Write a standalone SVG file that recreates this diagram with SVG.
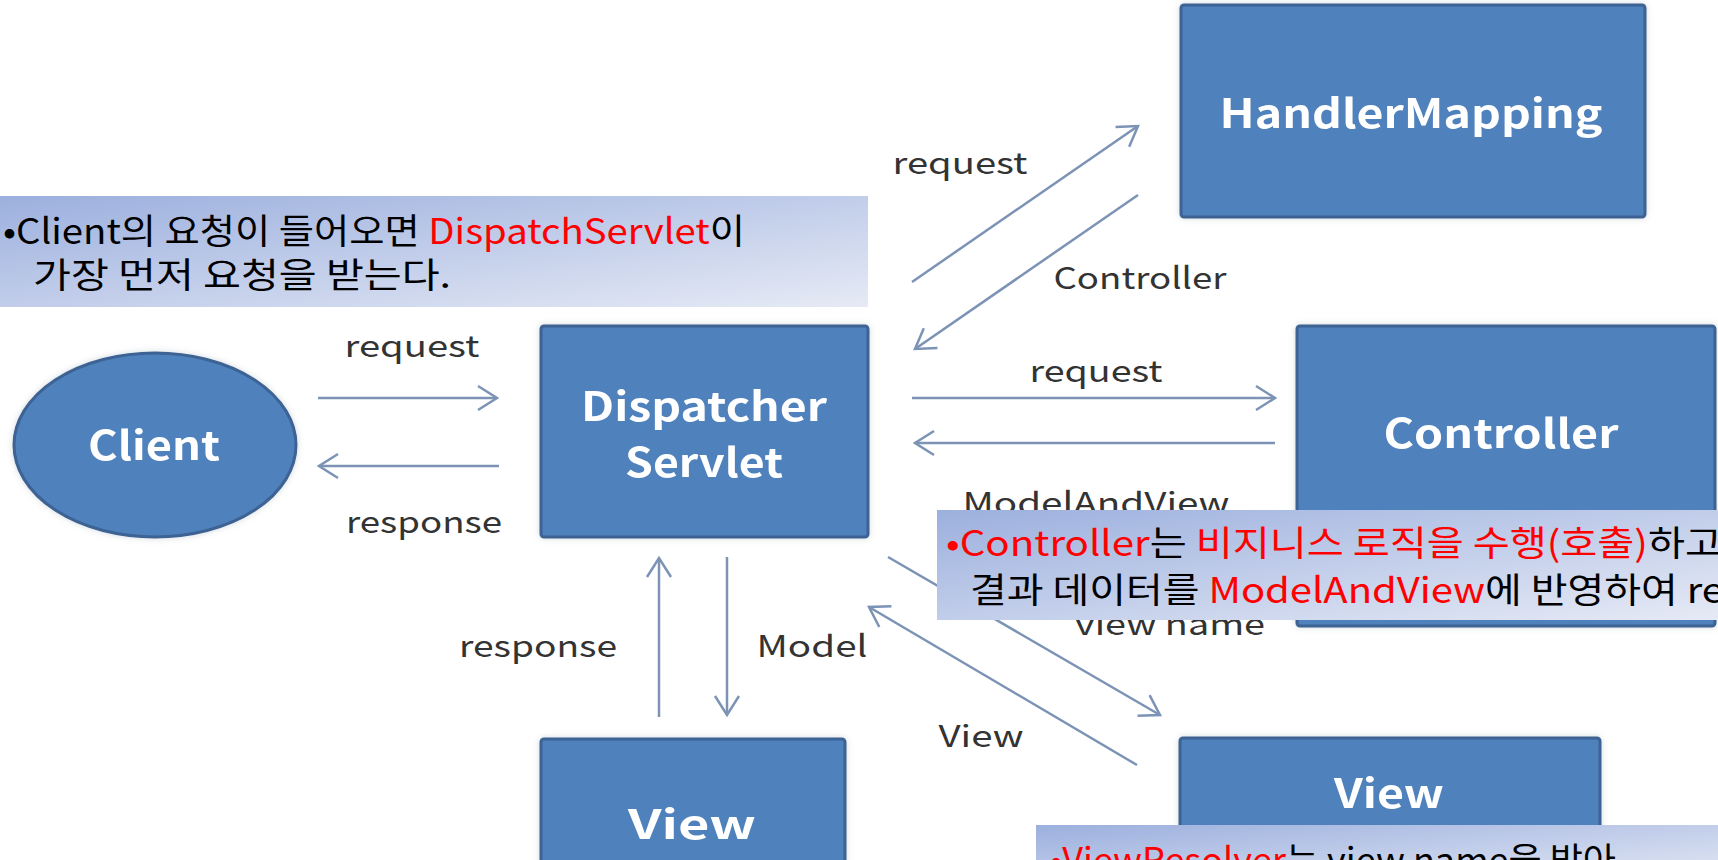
<svg xmlns="http://www.w3.org/2000/svg" width="1718" height="860" viewBox="0 0 1718 860">
<defs>
<style>
.box{fill:#4F81BD;stroke:#3C6294;stroke-width:3}
.nt{fill:#fff;font-family:"Noto Sans CJK KR","Noto Sans",sans-serif;font-weight:bold;font-size:40px;text-anchor:middle}
.lbl{fill:#333;font-family:"Noto Sans CJK KR","Noto Sans",sans-serif;font-size:30px;text-anchor:middle}
.conn{stroke:#7C93B6;stroke-width:2.5;fill:none;marker-end:url(#arr)}
.co{fill:url(#cg)}
.ct{fill:#000;font-family:"Noto Sans CJK KR","Noto Sans",sans-serif;font-size:35px}
.red{fill:#FF0000}
</style>
<marker id="arr" viewBox="0 0 22 28" refX="20" refY="13" markerWidth="22" markerHeight="28" markerUnits="userSpaceOnUse" orient="auto" overflow="visible">
<path d="M1,1 L20,13 L1,25" fill="none" stroke="#7C93B6" stroke-width="2.5"/>
</marker>
<linearGradient id="cg" x1="0" y1="0" x2="1" y2="1">
<stop offset="0" stop-color="#9CB0DE"/>
<stop offset="1" stop-color="#E6EAF5"/>
</linearGradient>
<filter id="sh" x="-10%" y="-10%" width="120%" height="120%">
<feDropShadow dx="0" dy="0" stdDeviation="3" flood-color="#8090a0" flood-opacity="0.35"/>
</filter>
</defs>
<rect width="1718" height="860" fill="#fff"/>

<g id="connectors">
<line class="conn" x1="318" y1="398" x2="497" y2="398"/>
<line class="conn" x1="499" y1="466" x2="319" y2="466"/>
<line class="conn" x1="912" y1="282" x2="1138" y2="126"/>
<line class="conn" x1="1138" y1="195" x2="915" y2="349"/>
<line class="conn" x1="912" y1="398" x2="1275" y2="398"/>
<line class="conn" x1="1275" y1="443" x2="915" y2="443"/>
<line class="conn" x1="888" y1="557" x2="1160" y2="715"/>
<line class="conn" x1="1137" y1="765" x2="869" y2="607"/>
<line class="conn" x1="659" y1="717" x2="659" y2="558"/>
<line class="conn" x1="727" y1="557" x2="727" y2="715"/>
</g>

<g id="labels">
<text class="lbl" x="412" y="357" textLength="135" lengthAdjust="spacingAndGlyphs">request</text>
<text class="lbl" x="424" y="533" textLength="156" lengthAdjust="spacingAndGlyphs">response</text>
<text class="lbl" x="960" y="174" textLength="135" lengthAdjust="spacingAndGlyphs">request</text>
<text class="lbl" x="1140" y="289" textLength="173" lengthAdjust="spacingAndGlyphs">Controller</text>
<text class="lbl" x="1096" y="382" textLength="133" lengthAdjust="spacingAndGlyphs">request</text>
<text class="lbl" x="1096" y="514" textLength="267" lengthAdjust="spacingAndGlyphs">ModelAndView</text>
<text class="lbl" x="1170" y="635" textLength="190" lengthAdjust="spacingAndGlyphs">view name</text>
<text class="lbl" x="981" y="747" textLength="85" lengthAdjust="spacingAndGlyphs">View</text>
<text class="lbl" x="538" y="657" textLength="158" lengthAdjust="spacingAndGlyphs">response</text>
<text class="lbl" x="812" y="657" textLength="111" lengthAdjust="spacingAndGlyphs">Model</text>
</g>

<g id="client" filter="url(#sh)">
<ellipse class="box" cx="155" cy="445" rx="141" ry="92"/>
<text class="nt" x="154" y="460" textLength="132" lengthAdjust="spacingAndGlyphs">Client</text>
</g>
<g id="dispatcher" filter="url(#sh)">
<rect class="box" x="541" y="326" width="327" height="211" rx="3"/>
<text class="nt" x="704" y="421" textLength="246" lengthAdjust="spacingAndGlyphs">Dispatcher</text>
<text class="nt" x="704" y="477" textLength="158" lengthAdjust="spacingAndGlyphs">Servlet</text>
</g>
<g id="handlermapping" filter="url(#sh)">
<rect class="box" x="1181" y="5" width="464" height="212" rx="3"/>
<text class="nt" x="1411" y="128" textLength="383" lengthAdjust="spacingAndGlyphs">HandlerMapping</text>
</g>
<g id="controller" filter="url(#sh)">
<rect class="box" x="1297" y="326" width="418" height="300" rx="3"/>
<text class="nt" x="1501" y="448" textLength="235" lengthAdjust="spacingAndGlyphs">Controller</text>
</g>
<g id="view-left" filter="url(#sh)">
<rect class="box" x="541" y="739" width="304" height="140" rx="3"/>
<text class="nt" x="692" y="839" font-size="44" textLength="128" lengthAdjust="spacingAndGlyphs">View</text>
</g>
<g id="view-right" filter="url(#sh)">
<rect class="box" x="1180" y="738" width="420" height="140" rx="3"/>
<text class="nt" x="1389" y="808" textLength="110" lengthAdjust="spacingAndGlyphs">View</text>
</g>

<g id="callout-1">
<rect class="co" x="0" y="196" width="868" height="111"/>
<text class="ct" x="3" y="244" textLength="742" lengthAdjust="spacingAndGlyphs">•Client의 요청이 들어오면 <tspan class="red">DispatchServlet</tspan>이</text>
<text class="ct" x="33" y="288" textLength="418" lengthAdjust="spacingAndGlyphs">가장 먼저 요청을 받는다.</text>
</g>
<g id="callout-2">
<rect class="co" x="937" y="510" width="781" height="110"/>
<text class="ct" x="946" y="556" textLength="776" lengthAdjust="spacingAndGlyphs"><tspan class="red">•Controller</tspan>는 <tspan class="red">비지니스 로직을 수행(호출)</tspan>하고</text>
<text class="ct" x="970" y="603" textLength="754" lengthAdjust="spacingAndGlyphs">결과 데이터를 <tspan class="red">ModelAndView</tspan>에 반영하여 re</text>
</g>
<g id="callout-3">
<rect class="co" x="1036" y="825" width="682" height="60"/>
<text class="ct" x="1050" y="873" textLength="566" lengthAdjust="spacingAndGlyphs"><tspan class="red">•ViewResolver</tspan>는 view name을 받아</text>
</g>
</svg>
